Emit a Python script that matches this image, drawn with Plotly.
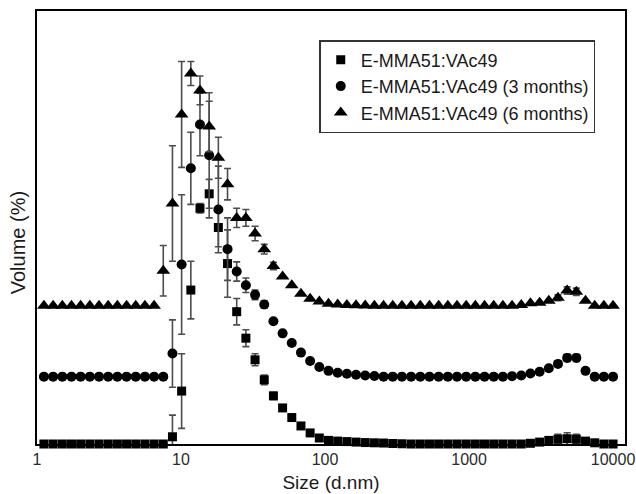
import plotly.graph_objects as go

# Particle size classes (d.nm)
sizes = [1.117, 1.294, 1.499, 1.736, 2.010, 2.328, 2.696, 3.122, 3.615, 4.187,
         4.849, 5.615, 6.503, 7.531, 8.721, 10.10, 11.70, 13.54, 15.69, 18.17,
         21.04, 24.36, 28.21, 32.67, 37.84, 43.82, 50.75, 58.77, 68.06, 78.82,
         91.28, 105.7, 122.4, 141.8, 164.2, 190.1, 220.2, 255.0, 295.3, 342.0,
         396.1, 458.7, 531.2, 615.1, 712.4, 825.0, 955.4, 1106, 1281, 1484,
         1718, 1990, 2305, 2669, 3091, 3580, 4145, 4801, 5560, 6439,
         7456, 8635, 10000]

names = ["E-MMA51:VAc49", "E-MMA51:VAc49 (3 months)", "E-MMA51:VAc49 (6 months)"]

# Volume (%) as plotted (curves are vertically offset in the original figure)
vol_0m = [0, 0, 0, 0, 0, 0, 0, 0, 0, 0,
          0, 0, 0, 0, 0.3, 2.2, 6.4, 9.8, 10.4, 9.0,
          7.5, 5.5, 4.4, 3.5, 2.67, 2.0, 1.5, 1.1, 0.75, 0.46,
          0.25, 0.15, 0.12, 0.10, 0.08, 0.06, 0.05, 0.04, 0.02, 0.01,
          0, 0, 0, 0, 0, 0, 0, 0, 0, 0,
          0, 0, 0, 0.03, 0.08, 0.15, 0.20, 0.22, 0.20, 0.12,
          0.05, 0, 0]
err_0m = [0, 0, 0, 0, 0, 0, 0, 0, 0, 0,
          0, 0, 0, 0, 0.9, 1.55, 1.2, 0.2, 0.6, 0.8,
          1.4, 0.55, 0.35, 0.25, 0.2, 0.15, 0, 0, 0, 0,
          0, 0, 0, 0, 0, 0, 0, 0, 0, 0,
          0, 0, 0, 0, 0, 0, 0, 0, 0, 0,
          0, 0, 0, 0, 0, 0, 0.2, 0.25, 0.2, 0,
          0, 0, 0]

vol_3m = [2.8, 2.8, 2.8, 2.8, 2.8, 2.8, 2.8, 2.8, 2.8, 2.8,
          2.8, 2.8, 2.8, 2.8, 3.76, 7.46, 11.46, 13.28, 12.0, 9.75,
          8.1, 7.17, 6.6, 6.2, 5.8, 5.1, 4.6, 4.2, 3.8, 3.45,
          3.2, 3.04, 2.96, 2.92, 2.88, 2.85, 2.83, 2.8, 2.8, 2.8,
          2.8, 2.8, 2.8, 2.8, 2.8, 2.8, 2.8, 2.8, 2.8, 2.8,
          2.8, 2.82, 2.85, 2.93, 3.0, 3.15, 3.33, 3.58, 3.58, 3.04,
          2.8, 2.8, 2.8]
err_3m = [0, 0, 0, 0, 0, 0, 0, 0, 0, 0,
          0, 0, 0, 0, 1.4, 2.9, 1.5, 1.3, 2.6, 1.8,
          1.3, 0.4, 0.3, 0.2, 0.15, 0, 0, 0, 0, 0,
          0, 0, 0, 0, 0, 0, 0, 0, 0, 0,
          0, 0, 0, 0, 0, 0, 0, 0, 0, 0,
          0, 0, 0, 0, 0, 0, 0, 0.15, 0.15, 0,
          0, 0, 0]

vol_6m = [5.75, 5.75, 5.75, 5.75, 5.75, 5.75, 5.75, 5.75, 5.75, 5.75,
          5.75, 5.75, 5.75, 7.2, 10.0, 13.7, 15.4, 14.7, 13.2, 11.9,
          10.8, 9.4, 9.4, 8.75, 8.1, 7.4, 6.96, 6.6, 6.25, 6.04,
          5.92, 5.83, 5.8, 5.78, 5.77, 5.76, 5.75, 5.75, 5.75, 5.75,
          5.75, 5.75, 5.75, 5.75, 5.75, 5.75, 5.75, 5.75, 5.75, 5.75,
          5.75, 5.75, 5.78, 5.85, 5.87, 5.96, 6.08, 6.38, 6.33, 5.96,
          5.75, 5.75, 5.75]
err_6m = [0, 0, 0, 0, 0, 0, 0, 0, 0, 0,
          0, 0, 0, 1.05, 2.4, 2.2, 0.5, 0.6, 1.05, 0.85,
          0.65, 0.4, 0.35, 0.3, 0.2, 0.15, 0, 0, 0, 0,
          0, 0, 0, 0, 0, 0, 0, 0, 0, 0,
          0, 0, 0, 0, 0, 0, 0, 0, 0, 0,
          0, 0, 0, 0, 0, 0, 0.12, 0.15, 0.15, 0,
          0, 0, 0]

x_ticks = [1, 10, 100, 1000, 10000]
x_tick_labels = ["1", "10", "100", "1000", "10000"]

FONT = "Liberation Sans, Arial, sans-serif"
ERR_COLOR = "#4d4d4d"

series = [
    (names[0], vol_0m, err_0m, "square", 9),
    (names[1], vol_3m, err_3m, "circle", 10),
    (names[2], vol_6m, err_6m, "triangle-up", 12),
]

fig = go.Figure()
for name, y, e, sym, sz in series:
    fig.add_trace(go.Scatter(
        x=sizes, y=y, name=name, mode="markers",
        marker=dict(symbol=sym, size=sz, color="black"),
        error_y=dict(type="data", array=e, visible=True, color=ERR_COLOR,
                     thickness=1.6, width=3.5),
        cliponaxis=False,
    ))

fig.update_layout(
    width=636, height=494,
    margin=dict(l=37, r=11, t=11, b=50, autoexpand=False),
    paper_bgcolor="white", plot_bgcolor="white",
    font=dict(family=FONT, color="#1a1a1a"),
    showlegend=True,
    legend=dict(
        x=0.48, y=0.933, xanchor="left", yanchor="top",
        bgcolor="white", bordercolor="#333333", borderwidth=1.5,
        font=dict(size=18, family=FONT, color="#1a1a1a"),
        tracegroupgap=0, itemsizing="trace",
    ),
    xaxis=dict(
        type="log", range=[0, 4.083], automargin=False,
        tickvals=x_ticks, ticktext=x_tick_labels,
        tickfont=dict(size=16, family=FONT, color="#2a2a2a"),
        showgrid=False, zeroline=False,
        showline=True, linecolor="black", linewidth=2, mirror=True,
        ticks="", title=dict(text="Size (d.nm)", font=dict(size=19, family=FONT, color="#1a1a1a"), standoff=8),
    ),
    yaxis=dict(
        range=[0, 18], automargin=False,
        showticklabels=False, showgrid=False, zeroline=False,
        showline=True, linecolor="black", linewidth=2, mirror=True,
        ticks="",
    ),
    annotations=[dict(
        text="Volume (%)", xref="paper", yref="paper",
        x=-0.032, y=0.464, xanchor="center", yanchor="middle",
        textangle=-90, showarrow=False,
        font=dict(size=20, family=FONT, color="#1a1a1a"),
    )],
)

fig.write_html("out.html")
